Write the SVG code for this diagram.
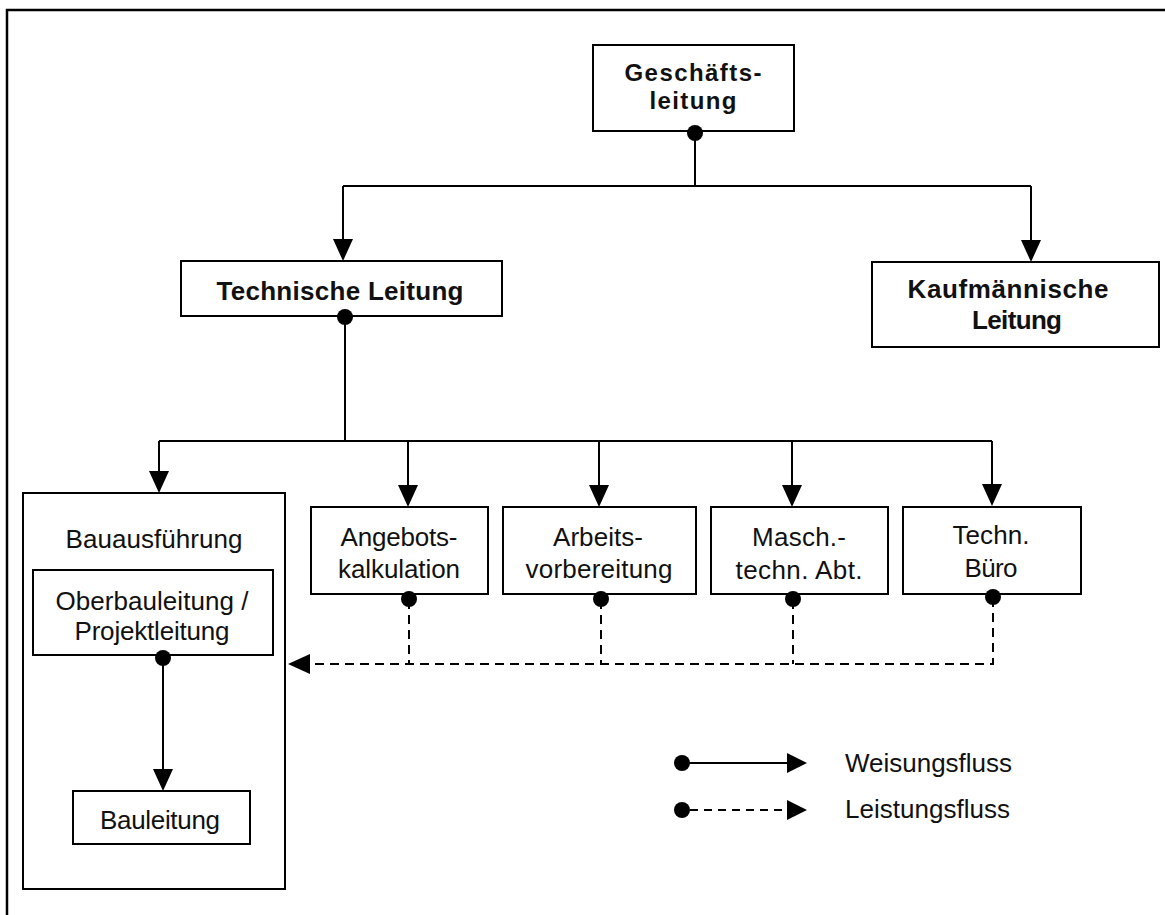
<svg xmlns="http://www.w3.org/2000/svg" width="1165" height="915" viewBox="0 0 1165 915">
  <style>
    .box { fill: #ffffff; stroke: #000000; stroke-width: 2; }
    .frame { fill: none; stroke: #000000; stroke-width: 2.5; }
    .line { fill: none; stroke: #000000; stroke-width: 2; }
    .dash { fill: none; stroke: #000000; stroke-width: 2; stroke-dasharray: 9 6; }
    .dot { fill: #000000; }
    .head { fill: #000000; }
    .t { font-family: "Liberation Sans", Arial, sans-serif; font-size: 26px; fill: #111111; text-anchor: middle; }
    .b { font-weight: bold; }
    .s { font-size: 24px; }
    .l { text-anchor: start; }
  </style>
  <defs>
    <path id="arrowDown" class="head" d="M0,0 L-10,-22 L10,-22 Z"/>
    <path id="arrowLeft" class="head" d="M0,0 L22,-10 L22,10 Z"/>
    <path id="arrowRight" class="head" d="M0,0 L-20,-10 L-20,10 Z"/>
  </defs>

  <rect width="1165" height="915" fill="#ffffff"/>

  <!-- page frame (top and left edges) -->
  <path class="frame" d="M7,915 L7,10 L1165,10"/>

  <!-- nodes -->
  <g id="geschaeftsleitung">
    <rect class="box" x="593" y="45" width="201" height="86"/>
    <text class="t b s" x="693" y="81" textLength="137">Geschäfts-</text>
    <text class="t b s" x="693" y="109" textLength="87">leitung</text>
  </g>

  <g id="technische-leitung">
    <rect class="box" x="181" y="261" width="321" height="55"/>
    <text class="t b" x="340" y="300" textLength="247">Technische Leitung</text>
  </g>

  <g id="kaufmaennische-leitung">
    <rect class="box" x="872" y="262" width="287" height="85"/>
    <text class="t b" x="1008" y="298" textLength="201">Kaufmännische</text>
    <text class="t b" x="1017" y="329" textLength="90">Leitung</text>
  </g>

  <g id="bauausfuehrung">
    <rect class="box" x="23" y="493" width="262" height="396"/>
    <text class="t" x="154" y="548" textLength="177">Bauausführung</text>
  </g>

  <g id="oberbauleitung">
    <rect class="box" x="33" y="570" width="240" height="85"/>
    <text class="t" x="152" y="610" textLength="193">Oberbauleitung /</text>
    <text class="t" x="152" y="640" textLength="155">Projektleitung</text>
  </g>

  <g id="bauleitung">
    <rect class="box" x="73" y="791" width="177" height="53"/>
    <text class="t" x="160" y="829" textLength="120">Bauleitung</text>
  </g>

  <g id="angebotskalkulation">
    <rect class="box" x="311" y="507" width="177" height="87"/>
    <text class="t" x="399" y="546" textLength="117">Angebots-</text>
    <text class="t" x="399" y="578" textLength="122">kalkulation</text>
  </g>

  <g id="arbeitsvorbereitung">
    <rect class="box" x="503" y="507" width="193" height="87"/>
    <text class="t" x="598" y="546" textLength="90">Arbeits-</text>
    <text class="t" x="599" y="578" textLength="147">vorbereitung</text>
  </g>

  <g id="maschinentechnik">
    <rect class="box" x="711" y="507" width="177" height="87"/>
    <text class="t" x="799" y="546" textLength="94">Masch.-</text>
    <text class="t" x="799" y="579" textLength="127">techn. Abt.</text>
  </g>

  <g id="technisches-buero">
    <rect class="box" x="903" y="507" width="178" height="87"/>
    <text class="t" x="991" y="544" textLength="77">Techn.</text>
    <text class="t" x="991" y="577" textLength="53">Büro</text>
  </g>

  <!-- connectors -->
  <g id="connectors">
    <!-- Geschäftsleitung to the two main departments -->
    <path class="line" d="M695,133 L695,186 M343,186 L1031,186 M343,186 L343,240 M1031,186 L1031,241"/>
    <use href="#arrowDown" x="343" y="261"/>
    <use href="#arrowDown" x="1031" y="262"/>

    <!-- Technische Leitung to its departments -->
    <path class="line" d="M345,317 L345,441 M159,441 L992,441 M159,441 L159,472 M408,441 L408,486 M599,441 L599,486 M792,441 L792,486 M992,441 L992,485"/>
    <use href="#arrowDown" x="159" y="493"/>
    <use href="#arrowDown" x="408" y="507"/>
    <use href="#arrowDown" x="599" y="507"/>
    <use href="#arrowDown" x="792" y="507"/>
    <use href="#arrowDown" x="992" y="506"/>

    <!-- Oberbauleitung to Bauleitung -->
    <path class="line" d="M163,658 L163,770"/>
    <use href="#arrowDown" x="163" y="791"/>

    <!-- service flow from the staff departments to Bauausführung -->
    <path class="dash" d="M409,600 L409,664 M601,600 L601,664 M793,600 L793,664 M993,598 L993,664 L310,664"/>
    <use href="#arrowLeft" x="288" y="664"/>

    <!-- origin dots -->
    <circle class="dot" cx="695" cy="133" r="8"/>
    <circle class="dot" cx="345" cy="317" r="8"/>
    <circle class="dot" cx="409" cy="599" r="8"/>
    <circle class="dot" cx="601" cy="599" r="8"/>
    <circle class="dot" cx="793" cy="599" r="8"/>
    <circle class="dot" cx="993" cy="597" r="8"/>
    <circle class="dot" cx="163" cy="658" r="8"/>
  </g>

  <!-- legend -->
  <g id="legend">
    <circle class="dot" cx="682" cy="763" r="8"/>
    <path class="line" d="M682,763 L790,763"/>
    <use href="#arrowRight" x="807" y="763"/>
    <text class="t l" x="845" y="772" textLength="167">Weisungsfluss</text>

    <circle class="dot" cx="682" cy="810" r="8"/>
    <path class="dash" d="M690,810 L790,810" style="stroke-dasharray: 8 6"/>
    <use href="#arrowRight" x="807" y="810"/>
    <text class="t l" x="845" y="818" textLength="165">Leistungsfluss</text>
  </g>
</svg>
